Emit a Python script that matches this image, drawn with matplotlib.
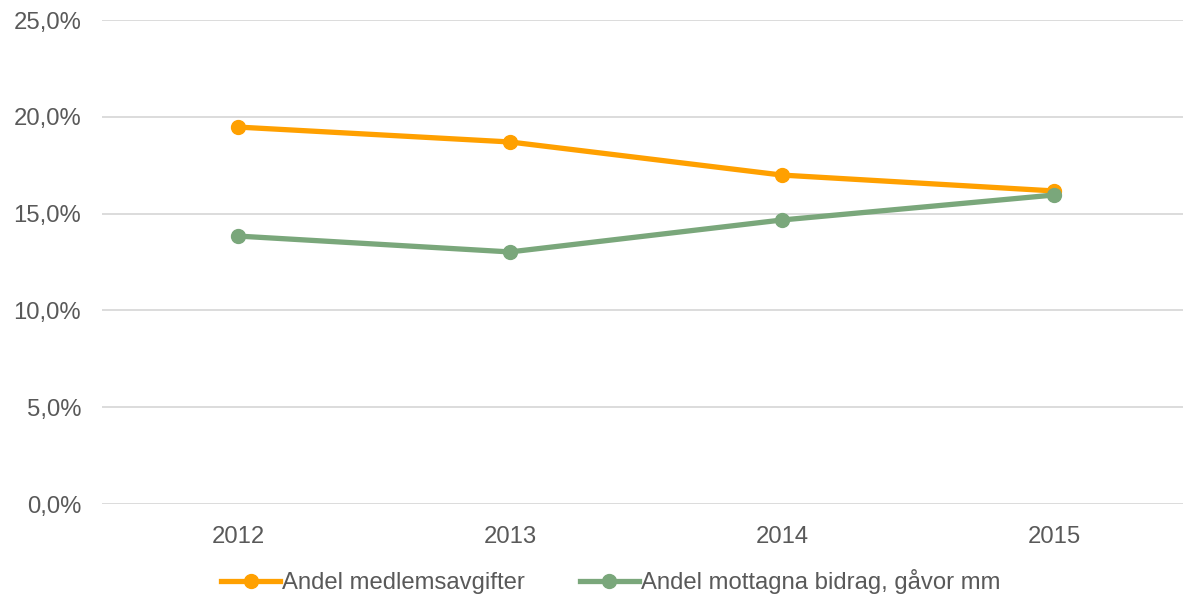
import matplotlib
matplotlib.use("Agg")
import matplotlib.pyplot as plt
from matplotlib.ticker import FuncFormatter

years = ["2012", "2013", "2014", "2015"]
medlemsavgifter = [19.47, 18.70, 16.99, 16.17]
bidrag = [13.84, 13.02, 14.67, 15.96]
series_names = ["Andel medlemsavgifter", "Andel mottagna bidrag, gåvor mm"]

plt.rcParams['font.family'] = ['Liberation Sans', 'DejaVu Sans']
W, H = 1183, 597
fig = plt.figure(figsize=(W/100, H/100), dpi=100)
ax = fig.add_axes([102/W, (H-504)/H, 1088/W, 484/H])

x = list(range(len(years)))
orange = "#FFA000"
green = "#7AA77B"
ax.plot(x, medlemsavgifter, color=orange, lw=3.8, marker='o', ms=10, label=series_names[0], zorder=3)
ax.plot(x, bidrag, color=green, lw=3.8, marker='o', ms=10, label=series_names[1], zorder=4)

FS = 17.2
ax.set_xlim(-0.5, 3.5)
ax.set_ylim(0, 25)
ax.set_yticks([0, 5, 10, 15, 20, 25])
ax.yaxis.set_major_formatter(FuncFormatter(lambda v, p: f"{v:.1f}%".replace(".", ",")))
ax.set_xticks(x)
ax.set_xticklabels(years)
ax.grid(axis='y', color="#D9D9D9", lw=1.3)
ax.set_axisbelow(True)
for s in ax.spines.values():
    s.set_visible(False)
ax.tick_params(axis='both', length=0, labelsize=FS, colors="#595959")
ax.tick_params(axis='y', pad=15)
ax.tick_params(axis='x', pad=16)

leg = fig.legend(loc='center', bbox_to_anchor=(611/W, 1-582/H), ncol=2, frameon=False,
                 fontsize=FS, handlelength=2.45, columnspacing=2.3, handletextpad=0.1)
for t in leg.get_texts():
    t.set_color("#595959")

fig.savefig("out.png", dpi=100)
